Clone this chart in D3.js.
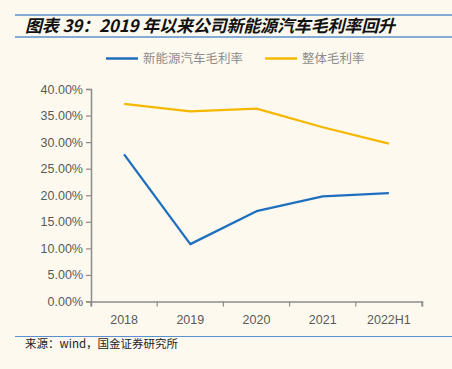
<!DOCTYPE html>
<html><head><meta charset="utf-8">
<script src="https://cdn.jsdelivr.net/npm/d3@7"></script>
<style>
html,body{margin:0;padding:0;background:#fdf9ef;}
svg{display:block;}
</style></head>
<body>
<script>
const categories = ["2018","2019","2020","2021","2022H1"];
const nevMargin = [27.7, 10.8, 17.0, 19.8, 20.4];
const totalMargin = [37.2, 35.8, 36.3, 32.8, 29.7];
const seriesNames = ["新能源汽车毛利率","整体毛利率"];
const seriesColors = ["#1f6fbf","#f5b800"];
const yTicks = [0,5,10,15,20,25,30,35,40];

const W = 452, H = 369;
const svg = d3.select("body").append("svg").attr("width", W).attr("height", H);
svg.append("rect").attr("width", W).attr("height", H).attr("fill", "#fdf9ef");

// title block
svg.append("line").attr("x1",15).attr("x2",W).attr("y1",15).attr("y2",15).attr("stroke","#5b8fd0").attr("stroke-width",1.5);
svg.append("line").attr("x1",15).attr("x2",W).attr("y1",37).attr("y2",37).attr("stroke","#5b8fd0").attr("stroke-width",1.5);
svg.append("text").attr("x",25).attr("y",32)
  .attr("font-family","'Noto Sans CJK SC', sans-serif").attr("font-size",17).attr("font-weight","bold").attr("font-style","italic")
  .attr("textLength",370).attr("lengthAdjust","spacing")
  .attr("fill","#111").text("图表 39：2019 年以来公司新能源汽车毛利率回升");

const x = d3.scaleBand().domain(categories).range([91, 422]);
const y = d3.scaleLinear().domain([0,40]).range([301.5, 89]);

// axes
const yAxis = d3.axisLeft(y).tickValues(yTicks).tickSize(5).tickFormat(d => d.toFixed(2) + "%");
const gy = svg.append("g").attr("transform","translate(91,0)").call(yAxis);
gy.select(".domain").attr("stroke","#8c8c8c").attr("stroke-width",1.5);
gy.selectAll(".tick line").attr("stroke","#8c8c8c").attr("stroke-width",1.2);
gy.selectAll(".tick text").attr("fill","#595959").attr("font-size",12.5).attr("font-family","'Liberation Sans', Arial, sans-serif").attr("x",-8);

const xAxis = d3.axisBottom(x).tickSize(5).tickSizeOuter(5);
const gx = svg.append("g").attr("transform","translate(0,301.5)").call(xAxis);
gx.select(".domain").attr("stroke","#8c8c8c").attr("stroke-width",1.5);
gx.selectAll(".tick line").remove();
// band boundary ticks
const bounds = categories.map(c => x(c)).concat([x.range()[1]]);
gx.selectAll(".bt").data(bounds).enter().append("line")
  .attr("x1",d=>d).attr("x2",d=>d).attr("y1",0).attr("y2",5)
  .attr("stroke","#8c8c8c").attr("stroke-width",1.2);
gx.selectAll(".tick text").attr("fill","#595959").attr("font-size",12.5).attr("font-family","'Liberation Sans', Arial, sans-serif").attr("dy","1.15em");

// lines
const line = d3.line().x((d,i)=>x(categories[i]) + x.bandwidth()/2).y(d=>y(d));
[nevMargin,totalMargin].forEach((s,i)=>{
  svg.append("path").datum(s).attr("d",line).attr("fill","none")
    .attr("stroke",seriesColors[i]).attr("stroke-width",2.3).attr("stroke-linejoin","round");
});

// legend
const legX = [106, 265];
seriesNames.forEach((n,i)=>{
  svg.append("line").attr("x1",legX[i]).attr("x2",legX[i]+32).attr("y1",58.5).attr("y2",58.5)
    .attr("stroke",seriesColors[i]).attr("stroke-width",2.5);
  svg.append("text").attr("x",legX[i]+37).attr("y",63)
    .attr("font-family","'Noto Sans CJK SC', sans-serif").attr("font-size",12.5).attr("fill","#8c8c8c").text(n);
});

// footer
svg.append("line").attr("x1",15).attr("x2",W).attr("y1",336.5).attr("y2",336.5).attr("stroke","#5b8fd0").attr("stroke-width",1.2);
svg.append("text").attr("x",25).attr("y",348)
  .attr("font-family","'Noto Sans CJK SC', sans-serif").attr("font-size",11.5).attr("fill","#222").text("来源：wind，国金证券研究所");
</script>
</body></html>
